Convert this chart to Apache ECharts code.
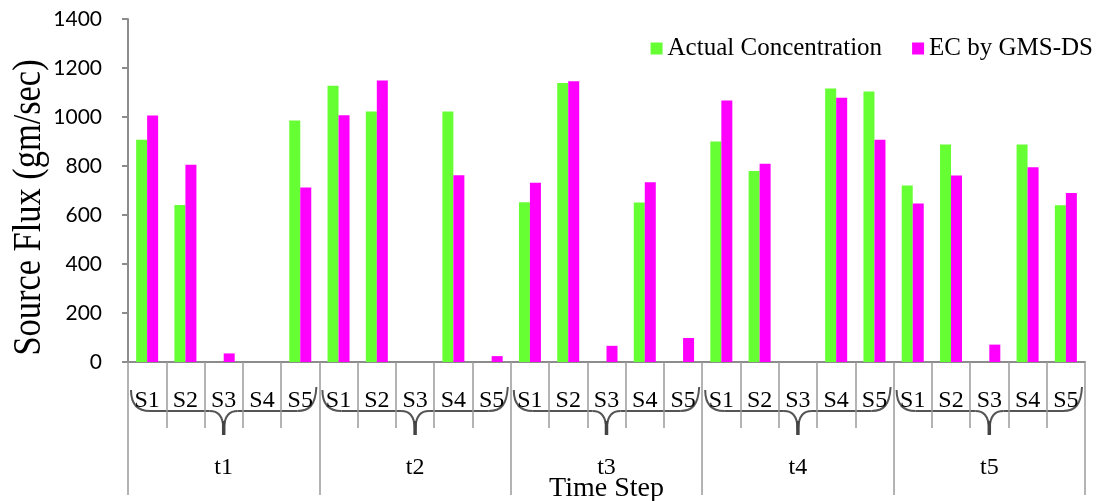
<!DOCTYPE html>
<html>
<head>
<meta charset="utf-8">
<script src="https://cdn.jsdelivr.net/npm/echarts@6/dist/echarts.min.js"></script>
<style>
html,body{margin:0;padding:0;background:#fff;}
#chart{width:1102px;height:501px;}
</style>
</head>
<body>
<div id="chart"></div>
<script>
// ---- data ----
var timeSteps = ['t1', 't2', 't3', 't4', 't5'];
var sources = ['S1', 'S2', 'S3', 'S4', 'S5'];
var actualConcentration = [907, 641, 0, 0, 986, 1128, 1022, 0, 1022, 0, 652, 1139, 0, 651, 0, 900, 780, 0, 1116, 1104, 720, 888, 0, 888, 640];
var ecByGmsDs = [1006, 805, 35, 0, 712, 1007, 1149, 0, 762, 24, 732, 1146, 66, 734, 98, 1067, 809, 0, 1079, 907, 647, 761, 71, 795, 690];
var yTicks = [0, 200, 400, 600, 800, 1000, 1200, 1400];

var sCategories = [];
timeSteps.forEach(function () { sources.forEach(function (s) { sCategories.push(s); }); });

var serif = '"Liberation Serif", "Times New Roman", serif';
var axisGray = '#8c8c8c';

var chart = echarts.init(document.getElementById('chart'), null, {renderer: 'canvas'});
chart.setOption({
  animation: false,
  backgroundColor: '#ffffff',
  grid: {left: 128, right: 17, top: 19, bottom: 139, containLabel: false, outerBoundsMode: 'none'},
  legend: {
    data: ['Actual Concentration', 'EC by GMS-DS'],
    right: 4, top: 31,
    icon: 'rect', itemWidth: 12, itemHeight: 12, itemGap: 30, itemTextGap: 7,
    textStyle: {fontFamily: serif, fontSize: 25, color: '#000'}
  },
  xAxis: [
    {
      type: 'category', data: sCategories, position: 'bottom',
      axisLine: {show: true, lineStyle: {color: axisGray, width: 2}},
      axisTick: {show: true, interval: 0, length: 66, lineStyle: {color: '#9a9a9a', width: 1.5}},
      axisLabel: {interval: 0, margin: 27, fontFamily: serif, fontSize: 24, color: '#000', lineHeight: 24}
    },
    {
      type: 'category', data: timeSteps, position: 'bottom',
      axisLine: {show: false},
      axisTick: {show: true, interval: 0, length: 133, lineStyle: {color: '#9a9a9a', width: 1.5}},
      axisLabel: {interval: 0, margin: 94, fontFamily: serif, fontSize: 24, color: '#000', lineHeight: 24},
      name: 'Time Step', nameLocation: 'middle', nameGap: 113, nameMoveOverlap: false,
      nameTextStyle: {fontFamily: serif, fontSize: 28, color: '#000', lineHeight: 28}
    }
  ],
  yAxis: {
    type: 'value', min: yTicks[0], max: yTicks[yTicks.length - 1], interval: 200,
    axisLine: {show: true, lineStyle: {color: axisGray, width: 2}},
    axisTick: {show: true, length: 6, lineStyle: {color: axisGray, width: 2}},
    splitLine: {show: false},
    axisLabel: {margin: 26, fontFamily: 'Lato, "Open Sans", sans-serif', fontSize: 21, color: '#000',
      formatter: function (v) { return String(v); }}
  },
  series: [
    {
      name: 'Actual Concentration', type: 'bar', xAxisIndex: 0, data: actualConcentration,
      barWidth: 11, barGap: '0%', itemStyle: {color: '#66ff33'}
    },
    {
      name: 'EC by GMS-DS', type: 'bar', xAxisIndex: 0, data: ecByGmsDs,
      barWidth: 11, barGap: '0%', itemStyle: {color: '#ff00ff'}
    }
  ]
});

// decorations: y-axis title and group braces, positioned from the axis scales
var c0 = chart.convertToPixel({xAxisIndex: 1}, timeSteps[0]);
var c1 = chart.convertToPixel({xAxisIndex: 1}, timeSteps[1]);
var gw = c1 - c0;
var yBase = chart.convertToPixel({yAxisIndex: 0}, 0);
var yTop = chart.convertToPixel({yAxisIndex: 0}, yTicks[yTicks.length - 1]);
var graphics = [{
  type: 'text', x: 29, y: (yBase + yTop) / 2 + 17, rotation: Math.PI / 2, scaleX: 0.86,
  style: {text: 'Source Flux (gm/sec)', font: '40px ' + serif, fill: '#000', textAlign: 'center', textVerticalAlign: 'middle'}
}];
var braceStyle = {stroke: '#555', lineWidth: 2, fill: null};
timeSteps.forEach(function (t) {
  var xc = chart.convertToPixel({xAxisIndex: 1}, t);
  var xs = xc - gw / 2, xe = xc + gw / 2;
  var yl = yBase + 49, yd = yBase + 71;
  graphics.push({type: 'bezierCurve', shape: {x1: xs + 3, y1: yBase + 28, cpx1: xs + 3, cpy1: yl - 6, cpx2: xs + 10, cpy2: yl, x2: xs + 22, y2: yl}, style: braceStyle});
  graphics.push({type: 'line', shape: {x1: xs + 22, y1: yl, x2: xc - 14, y2: yl}, style: braceStyle});
  graphics.push({type: 'bezierCurve', shape: {x1: xc - 14, y1: yl, cpx1: xc - 6, cpy1: yl, cpx2: xc - 1, cpy2: yl + 4, x2: xc, y2: yd - 4}, style: braceStyle});
  graphics.push({type: 'bezierCurve', shape: {x1: xc, y1: yd - 4, cpx1: xc + 1, cpy1: yl + 4, cpx2: xc + 6, cpy2: yl, x2: xc + 14, y2: yl}, style: braceStyle});
  graphics.push({type: 'line', shape: {x1: xc + 14, y1: yl, x2: xe - 22, y2: yl}, style: braceStyle});
  graphics.push({type: 'bezierCurve', shape: {x1: xe - 22, y1: yl, cpx1: xe - 10, cpy1: yl, cpx2: xe - 4, cpy2: yl - 6, x2: xe - 3, y2: yBase + 25}, style: braceStyle});
  graphics.push({type: 'line', shape: {x1: xc, y1: yd - 12, x2: xc, y2: yd + 2}, style: {stroke: '#444', lineWidth: 3.5}});
});
chart.setOption({graphic: graphics});
</script>
</body>
</html>
